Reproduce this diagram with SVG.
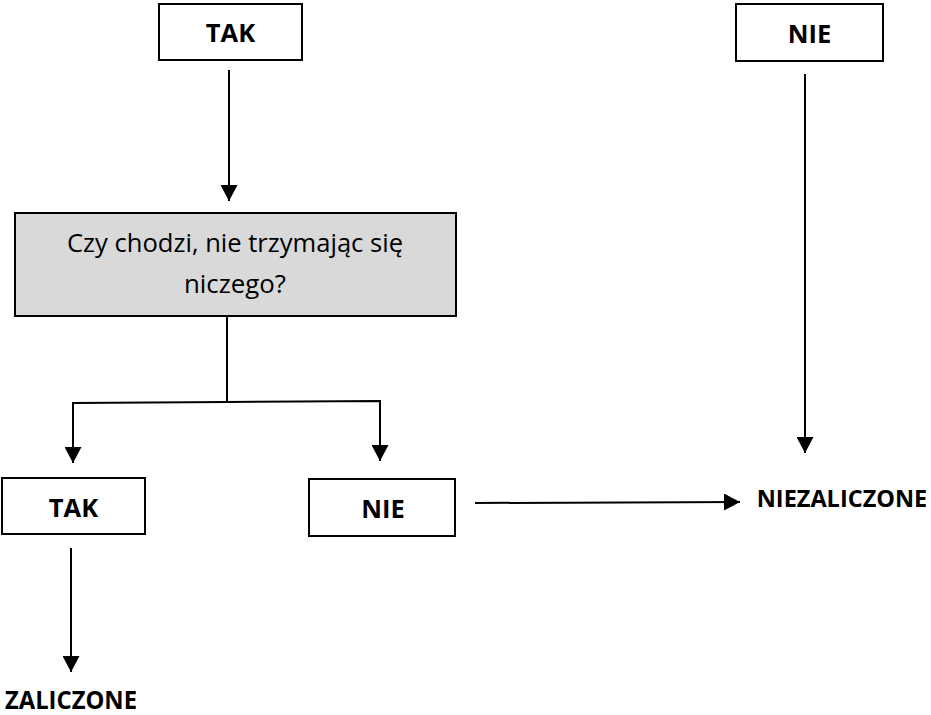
<svg xmlns="http://www.w3.org/2000/svg" width="931" height="715" viewBox="0 0 931 715">
<style>
.box{fill:#ffffff;stroke:#000000;stroke-width:2}
.q{fill:#d9d9d9;stroke:#000000;stroke-width:2}
.b{font-family:"Open Sans","Liberation Sans",sans-serif;font-weight:bold;font-size:25.5px;fill:#000000;text-anchor:middle}
.r{font-family:"Open Sans","Liberation Sans",sans-serif;font-size:25.5px;fill:#000000;text-anchor:middle}
.l{fill:none;stroke:#000000;stroke-width:2}
</style>
<defs>
<marker id="ah" markerUnits="userSpaceOnUse" markerWidth="17" markerHeight="17" viewBox="0 0 17 17" refX="16" refY="8.5" orient="auto">
<path d="M0,0 L16,8.5 L0,17 Z" fill="#000000"/>
</marker>
</defs>
<rect width="931" height="715" fill="#ffffff"/>
<g id="connectors">
<line class="l" x1="229" y1="70" x2="229" y2="201" marker-end="url(#ah)"/>
<line class="l" x1="805" y1="74" x2="805" y2="453" marker-end="url(#ah)"/>
<polyline class="l" points="227,316 227,402"/>
<polyline class="l" points="227,402 73,403 73,463" marker-end="url(#ah)"/>
<polyline class="l" points="227,402 380,401 380,461" marker-end="url(#ah)"/>
<line class="l" x1="71" y1="548" x2="71" y2="672" marker-end="url(#ah)"/>
<line class="l" x1="475" y1="503" x2="740" y2="502" marker-end="url(#ah)"/>
</g>
<g id="n-tak-top">
<rect class="box" x="159" y="4" width="143" height="56"/>
<text class="b" x="230.5" y="42">TAK</text>
</g>
<g id="n-nie-top">
<rect class="box" x="736" y="4" width="147" height="57"/>
<text class="b" x="809.5" y="43">NIE</text>
</g>
<g id="n-question">
<rect class="q" x="15" y="213" width="441" height="103"/>
<text class="r" x="235" y="252" textLength="336" lengthAdjust="spacingAndGlyphs">Czy chodzi, nie trzymając się</text>
<text class="r" x="235" y="293" textLength="102" lengthAdjust="spacingAndGlyphs">niczego?</text>
</g>
<g id="n-tak">
<rect class="box" x="2" y="478" width="143" height="56"/>
<text class="b" x="73.5" y="517">TAK</text>
</g>
<g id="n-nie">
<rect class="box" x="309" y="479" width="146" height="57"/>
<text class="b" x="383" y="518">NIE</text>
</g>
<g id="n-niezaliczone">
<text class="b" x="842" y="507" style="font-size:23.5px">NIEZALICZONE</text>
</g>
<g id="n-zaliczone">
<text class="b" x="71" y="709" textLength="132" lengthAdjust="spacingAndGlyphs">ZALICZONE</text>
</g>
</svg>
